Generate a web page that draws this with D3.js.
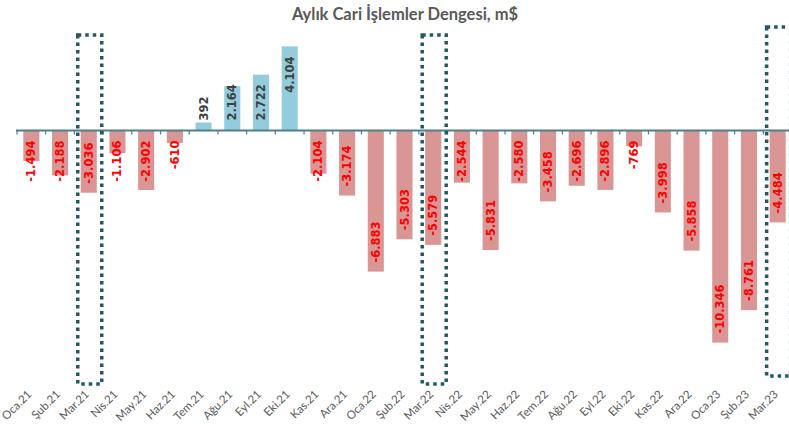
<!DOCTYPE html>
<html>
<head>
<meta charset="utf-8">
<script src="https://cdn.jsdelivr.net/npm/d3@7"></script>
<style>
  html, body { margin: 0; padding: 0; background: #fff; }
  svg { display: block; }
</style>
</head>
<body>
<svg id="chart" width="789" height="424"></svg>
<script>
const categories = ["Oca.21","Şub.21","Mar.21","Nis.21","May.21","Haz.21","Tem.21","Ağu.21","Eyl.21","Eki.21","Kas.21","Ara.21",
  "Oca.22","Şub.22","Mar.22","Nis.22","May.22","Haz.22","Tem.22","Ağu.22","Eyl.22","Eki.22","Kas.22","Ara.22",
  "Oca.23","Şub.23","Mar.23"];
const values = [-1494,-2188,-3036,-1106,-2902,-610,392,2164,2722,4104,-2104,-3174,
  -6883,-5303,-5579,-2544,-5831,-2580,-3458,-2696,-2896,-769,-3998,-5858,
  -10346,-8761,-4484];
const highlighted = ["Mar.21","Mar.22","Mar.23"];
const title = "Aylık Cari İşlemler Dengesi, m$";

const svg = d3.select("#chart");
const W = 789, H = 424;

const x = d3.scaleBand().domain(categories).range([17, 792]).paddingInner(0.44).paddingOuter(0.22);
const y = d3.scaleLinear().domain([-12000, 5000]).range([376.5, 28]);
const y0 = y(0);

const fmt = v => {
  const s = Math.abs(v).toString().replace(/\B(?=(\d{3})+(?!\d))/g, ".");
  return (v < 0 ? "-" : "") + s;
};

// title
svg.append("text")
  .attr("x", 405).attr("y", 20)
  .attr("text-anchor", "middle")
  .attr("font-family", "Lato, 'Open Sans', sans-serif")
  .attr("font-weight", "bold")
  .attr("font-size", 16.5)
  .attr("fill", "#595959")
  .text(title);

// bars
svg.append("g").selectAll("rect").data(categories).join("rect")
  .attr("x", (c) => x(c))
  .attr("width", x.bandwidth())
  .attr("y", (c, i) => Math.min(y(values[i]), y0))
  .attr("height", (c, i) => Math.abs(y(values[i]) - y0))
  .attr("fill", (c, i) => values[i] < 0 ? "#D99694" : "#93CDDD");

// axis line + ticks at band boundaries
const off = (x.step() - x.bandwidth()) / 2;
const axisG = svg.append("g");
axisG.append("line")
  .attr("x1", 16).attr("x2", W)
  .attr("y1", y0).attr("y2", y0)
  .attr("stroke", "#4F7F8C").attr("stroke-width", 2);
const tickXs = categories.map(c => x(c) - off).concat([x(categories[categories.length - 1]) + x.bandwidth() + off]);
axisG.selectAll("line.tick").data(tickXs).join("line")
  .attr("class", "tick")
  .attr("x1", d => d).attr("x2", d => d)
  .attr("y1", y0).attr("y2", y0 + 4)
  .attr("stroke", "#4F7F8C").attr("stroke-width", 1.2);

// value labels (rotated)
const labelFont = "'DejaVu Sans', Verdana, sans-serif";
const lbl = svg.append("g");
categories.forEach((c, i) => {
  const v = values[i];
  const cx = x(c) + x.bandwidth() / 2;
  const t = lbl.append("text")
    .attr("font-family", labelFont)
    .attr("font-weight", "bold")
    .attr("font-size", 11.5)
    .attr("fill", v < 0 ? "#FF0000" : "#404040")
    .attr("dominant-baseline", "central")
    .text(fmt(v));
  const len = t.node().getComputedTextLength();
  let yBottom;
  if (v < 0) {
    yBottom = Math.max(y(v) - 9, y0 + 10 + len);
  } else {
    const yTop = Math.min(y(v) + 10, y0 - 10 - len);
    yBottom = yTop + len;
  }
  t.attr("transform", `translate(${cx},${yBottom}) rotate(-90)`)
   .attr("text-anchor", "start");
});

// x category labels
svg.append("g").selectAll("text").data(categories).join("text")
  .attr("transform", c => `translate(${x(c) + x.bandwidth() / 2 + 1},${395}) rotate(-45)`)
  .attr("text-anchor", "end")
  .attr("font-family", "Lato, 'Open Sans', sans-serif")
  .attr("font-size", 11.5)
  .attr("fill", "#595959")
  .text(c => c);

// highlight boxes (dotted)
svg.append("g").selectAll("rect").data(highlighted).join("rect")
  .attr("x", c => x(c) + x.bandwidth() / 2 - 11)
  .attr("y", (c, i) => i === highlighted.length - 1 ? 27 : 35)
  .attr("width", 24)
  .attr("height", 349)
  .attr("fill", "none")
  .attr("stroke", "#215967")
  .attr("stroke-width", 3.5)
  .attr("stroke-dasharray", "3.5 4");
</script>
</body>
</html>
